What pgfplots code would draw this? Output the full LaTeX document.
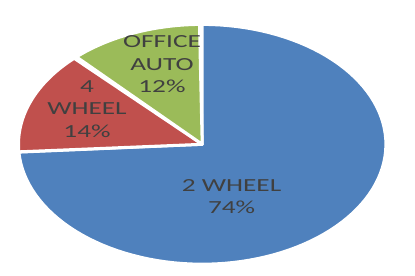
\documentclass[border=0pt]{standalone}
\usepackage{pgfplots}
\pgfplotsset{compat=1.18}
\usepackage{fontspec}
\setmainfont{Carlito}
\definecolor{sliceblue}{HTML}{4F81BD}
\definecolor{slicered}{HTML}{C0504D}
\definecolor{slicegreen}{HTML}{9BBB59}
\definecolor{labeltext}{HTML}{404040}
% slice shares (percent), in drawing order clockwise from 12 o'clock
\def\pA{74}% 2 WHEEL
\def\pB{14}% 4 WHEEL
\def\pC{12}% OFFICE AUTO
\begin{document}
\begin{tikzpicture}
\begin{axis}[
  scale only axis, width=415bp, height=276bp,
  axis lines=none, clip=false,
  xmin=-1.1007, xmax=1.1584, ymin=-1.0984, ymax=1.2035,
  every axis plot/.append style={draw=white, line width=3bp, line join=round},
]
\path (rel axis cs:0,0) rectangle (rel axis cs:1,1);
\pgfmathsetmacro{\aA}{90}
\pgfmathsetmacro{\bA}{90-3.6*\pA}
\pgfmathsetmacro{\bB}{\bA-3.6*\pB}
\pgfmathsetmacro{\bC}{\bB-3.6*\pC}
% each wedge: the first and last samples sit at the centre
\addplot[fill=sliceblue, samples at={-1,0,0.01,...,1.0001,2}, variable=\t]
  ({(\t<0||\t>1) ? 0 : cos(\aA+(\bA-\aA)*\t)},
   {(\t<0||\t>1) ? 0 : sin(\aA+(\bA-\aA)*\t)}) -- cycle;
\addplot[fill=slicered, samples at={-1,0,0.02,...,1.0001,2}, variable=\t]
  ({(\t<0||\t>1) ? 0 : cos(\bA+(\bB-\bA)*\t)},
   {(\t<0||\t>1) ? 0 : sin(\bA+(\bB-\bA)*\t)}) -- cycle;
\addplot[fill=slicegreen, samples at={-1,0,0.02,...,1.0001,2}, variable=\t]
  ({(\t<0||\t>1) ? 0 : cos(\bB+(\bC-\bB)*\t)},
   {(\t<0||\t>1) ? 0 : sin(\bB+(\bC-\bB)*\t)}) -- cycle;
\begin{scope}[every node/.style={text=labeltext, align=center, xscale=1.48,
   font=\fontsize{18.5}{22.5}\selectfont}]
\node at (axis cs:0.160,-0.435) {2 WHEEL\\74\%};
\node at (axis cs:-0.627,0.294) {4\\WHEEL\\14\%};
\node at (axis cs:-0.219,0.666) {OFFICE\\AUTO\\12\%};
\end{scope}
\end{axis}
\end{tikzpicture}
\end{document}
